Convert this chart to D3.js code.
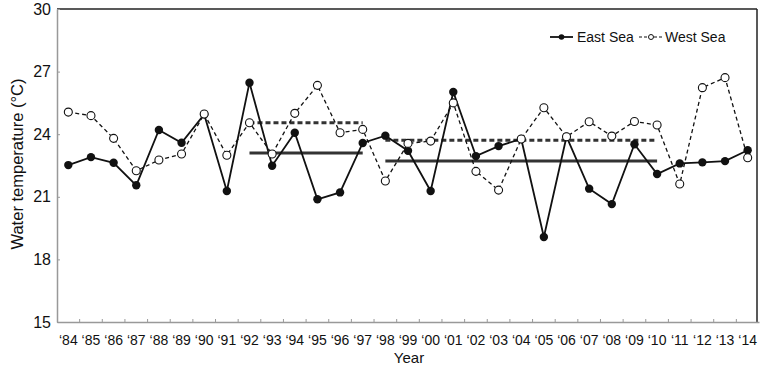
<!DOCTYPE html>
<html>
<head>
<meta charset="utf-8">
<script src="https://cdn.jsdelivr.net/npm/d3@7"></script>
<style>
  body { margin: 0; background: #fff; }
  text { font-family: "Liberation Sans", Arial, sans-serif; fill: #111; }
</style>
</head>
<body>
<div id="chart"></div>
<script>
// years 1984 - 2014
let years = d3.range(1984, 2015)

let eastSea = [22.52, 22.9, 22.63, 21.55, 24.2, 23.59, 24.95, 21.28, 26.47, 22.49,
               24.07, 20.88, 21.21, 23.58, 23.93, 23.21, 21.28, 26.02, 22.95, 23.43,
               23.77, 19.07, 23.88, 21.39, 20.65, 23.52, 22.09, 22.6, 22.65, 22.71, 23.23]

let westSea = [25.06, 24.89, 23.8, 22.25, 22.76, 23.05, 24.97, 22.99, 24.55, 23.05,
               25.0, 26.34, 24.07, 24.23, 21.76, 23.56, 23.67, 25.5, 22.22, 21.32,
               23.77, 25.27, 23.88, 24.6, 23.91, 24.61, 24.44, 21.61, 26.23, 26.71, 22.87]

// period means: [startYear, endYear, value]
let eastMeans = [[1992, 1997, 23.1], [1998, 2010, 22.71]]
let westMeans = [[1992, 1997, 24.55], [1998, 2010, 23.71]]

let yTicks = [15, 18, 21, 24, 27, 30]

let width = 760
let height = 371
let plotLeft = 57, plotRight = 757, plotTop = 9, plotBottom = 322

let svg = d3.select("#chart").append("svg")
    .attr("width", width)
    .attr("height", height)

let x = d3.scaleBand()
    .domain(years)
    .range([plotLeft, 759])

let y = d3.scaleLinear()
    .domain([15, 30])
    .range([plotBottom, plotTop])

let cx = d => x(d) + x.bandwidth() / 2

// frame: top and right dark
svg.append("line")
    .attr("x1", plotLeft).attr("x2", plotRight)
    .attr("y1", plotTop).attr("y2", plotTop)
    .attr("stroke", "#222").attr("stroke-width", 1.5)
svg.append("line")
    .attr("x1", plotRight).attr("x2", plotRight)
    .attr("y1", plotTop).attr("y2", plotBottom)
    .attr("stroke", "#222").attr("stroke-width", 1.5)

// y axis
let yAxis = svg.append("g")
    .attr("transform", `translate(${plotLeft},0)`)
    .call(d3.axisLeft(y).tickValues(yTicks).tickSizeInner(-3).tickSizeOuter(0).tickPadding(6))
yAxis.select(".domain").attr("stroke", "#999").attr("stroke-width", 1.5)
yAxis.selectAll(".tick line").attr("stroke", "#999")
yAxis.selectAll(".tick text").style("font-size", "16px").style("font-family", "Liberation Sans, Arial, sans-serif")

// x axis, ticks at band edges
let xAxis = svg.append("g")
    .attr("transform", `translate(0,${plotBottom})`)
    .call(d3.axisBottom(x).tickSize(0).tickPadding(13)
        .tickFormat(d => "\u2018" + String(d).slice(2)))
xAxis.select(".domain").attr("stroke", "#999").attr("stroke-width", 1.5)
xAxis.selectAll(".tick text").style("font-size", "14px").style("font-family", "Liberation Sans, Arial, sans-serif")
xAxis.selectAll(".edge")
    .data(years.slice(1))
    .enter().append("line")
    .attr("x1", d => x(d)).attr("x2", d => x(d))
    .attr("y1", 0).attr("y2", -3)
    .attr("stroke", "#999")

// titles
svg.append("text")
    .attr("x", 409).attr("y", 363)
    .attr("text-anchor", "middle")
    .style("font-size", "15px")
    .text("Year")

svg.append("text")
    .attr("transform", `translate(23, 164) rotate(-90)`)
    .attr("text-anchor", "middle")
    .style("font-size", "16.5px")
    .text("Water temperature (\u00B0C)")

// mean lines
let meanLine = svg.append("g")
meanLine.selectAll(".eastMean")
    .data(eastMeans)
    .enter().append("line")
    .attr("x1", d => cx(d[0])).attr("x2", d => cx(d[1]))
    .attr("y1", d => y(d[2])).attr("y2", d => y(d[2]))
    .attr("stroke", "#333").attr("stroke-width", 3)
meanLine.selectAll(".westMean")
    .data(westMeans)
    .enter().append("line")
    .attr("x1", d => cx(d[0])).attr("x2", d => cx(d[1]))
    .attr("y1", d => y(d[2])).attr("y2", d => y(d[2]))
    .attr("stroke", "#333").attr("stroke-width", 3)
    .attr("stroke-dasharray", "5,3")

let line = d3.line()
    .x((d, i) => cx(years[i]))
    .y(d => y(d))

// west sea (dashed, open markers)
svg.append("path")
    .datum(westSea)
    .attr("d", line)
    .attr("fill", "none")
    .attr("stroke", "#111").attr("stroke-width", 1.3)
    .attr("stroke-dasharray", "4,3")

// east sea (solid, filled markers)
svg.append("path")
    .datum(eastSea)
    .attr("d", line)
    .attr("fill", "none")
    .attr("stroke", "#111").attr("stroke-width", 1.8)

svg.selectAll(".eastDot")
    .data(eastSea)
    .enter().append("circle")
    .attr("cx", (d, i) => cx(years[i]))
    .attr("cy", d => y(d))
    .attr("r", 4.2)
    .attr("fill", "#111")

svg.selectAll(".westDot")
    .data(westSea)
    .enter().append("circle")
    .attr("cx", (d, i) => cx(years[i]))
    .attr("cy", d => y(d))
    .attr("r", 4)
    .attr("fill", "#fff")
    .attr("stroke", "#111").attr("stroke-width", 1.1)

// legend
let legend = svg.append("g")
legend.append("line")
    .attr("x1", 550).attr("x2", 573).attr("y1", 37).attr("y2", 37)
    .attr("stroke", "#111").attr("stroke-width", 1.8)
legend.append("circle")
    .attr("cx", 561.5).attr("cy", 37).attr("r", 2.8).attr("fill", "#111")
legend.append("text")
    .attr("x", 577).attr("y", 42)
    .style("font-size", "14px")
    .text("East Sea")

legend.append("line")
    .attr("x1", 639).attr("x2", 663).attr("y1", 37).attr("y2", 37)
    .attr("stroke", "#111").attr("stroke-width", 1.2)
    .attr("stroke-dasharray", "3,2")
legend.append("circle")
    .attr("cx", 651).attr("cy", 37).attr("r", 2.5)
    .attr("fill", "#fff").attr("stroke", "#111")
legend.append("text")
    .attr("x", 665).attr("y", 42)
    .style("font-size", "14px")
    .text("West Sea")
</script>
</body>
</html>
